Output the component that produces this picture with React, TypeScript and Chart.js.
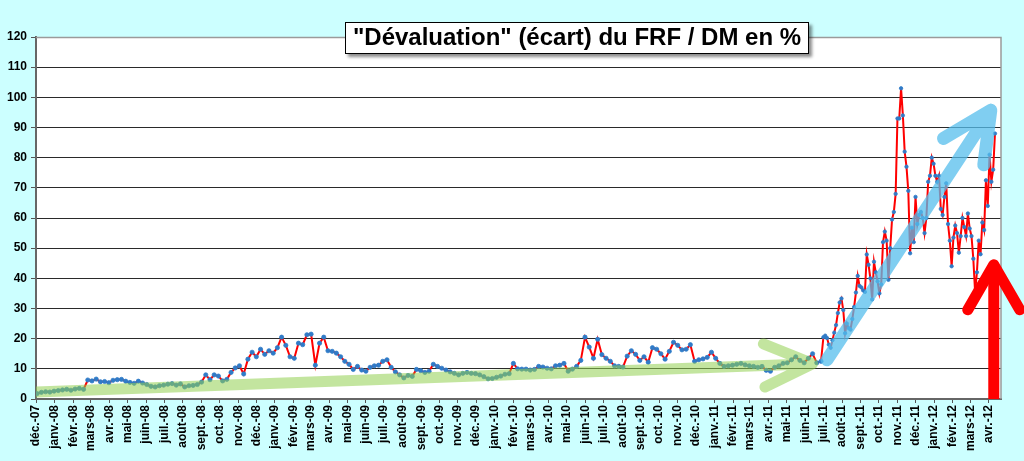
import React, { useEffect, useRef } from "react";
import { Chart, registerables } from "chart.js";

Chart.register(...registerables);

// ---------- categories / ticks ----------
const MONTH_ABBR = ["janv.", "févr.", "mars", "avr.", "mai", "juin", "juil.", "août", "sept.", "oct.", "nov.", "déc."];
const AXIS_START = "2007-12-01";
const AXIS_END = "2012-04-21";
const FIRST_TICK_MONTH = { year: 2007, month: 11 }; // déc.-07
const MONTH_TICK_COUNT = 53; // déc.-07 .. avr.-12
const Y_TICKS = [0, 10, 20, 30, 40, 50, 60, 70, 80, 90, 100, 110, 120];

const TITLE = '"Dévaluation" (écart) du FRF / DM en %';

// ---------- series values ----------
const WEEKLY_START = "2007-12-03";
const WEEKLY_STEP_DAYS = 7;
// Dec 2007 - Jun 2009, one value per week
const weeklyValuesA = [
  1.8, 2.2, 2.4, 2.3, 2.6,
  2.8, 3.0, 3.2, 2.9,
  3.3, 3.5, 3.2, 6.3,
  6.0, 6.6, 5.7, 5.8, 5.4,
  6.2, 6.4, 6.5, 5.9,
  5.5, 5.2, 5.9, 5.3,
  4.8, 4.2, 4.0, 4.4, 4.6,
  4.9, 5.1, 4.6, 5.0,
  4.0, 4.4, 4.5, 4.8,
  5.6, 8.0, 6.4, 8.0, 7.6,
  6.0, 6.5, 8.8, 10.3,
  11.0, 8.3, 13.2, 15.5,
  14.0, 16.5, 14.8, 16.0, 15.2,
  17.0, 20.5, 17.8, 14.0,
  13.5, 18.5, 18.0, 21.3,
  21.5, 11.2, 18.5, 20.5, 16.0,
  15.8, 15.2, 14.0, 12.5,
  11.5, 9.8, 10.8, 9.6,
  9.2, 10.5, 11.0, 11.2, 12.5,
];
// Jul 2009 - Jun 2011, one value per week
const weeklyValuesB = [
  13.0, 10.5, 9.0, 8.0,
  7.0, 7.8, 7.5, 9.8, 9.4,
  8.8, 9.2, 11.5, 10.8,
  10.2, 9.6, 9.0, 8.5,
  8.0, 8.5, 8.8, 8.5, 8.4,
  8.0, 7.4, 6.7, 6.8,
  7.2, 7.6, 8.2, 8.4,
  11.8, 10.0, 9.9, 9.9,
  9.6, 9.8, 10.8, 10.6, 10.2,
  10.0, 11.0, 11.2, 11.8,
  9.2, 9.9, 10.8, 12.8, 20.5,
  17.2, 13.5, 19.8, 14.7,
  13.5, 12.5, 11.0, 10.8,
  10.6, 14.2, 16.0, 14.8, 12.8,
  14.0, 12.2, 17.0, 16.5,
  15.0, 13.2, 15.8, 18.8,
  17.8, 16.3, 16.5, 18.0, 12.5,
  13.0, 13.3, 13.8, 15.5,
  13.5, 11.8, 10.8, 11.0, 11.2,
  11.5, 11.8, 11.3, 11.0,
  10.8, 10.5, 10.8, 9.5,
  9.2, 10.5, 11.0, 11.8,
  12.0, 13.0, 14.0, 12.8, 12.0,
  13.5, 15.0, 12.0, 12.5,
];
// Jul 2011 - Apr 2012, one value every 3 days
const DENSE_START = "2011-07-01";
const DENSE_STEP_DAYS = 3;
const denseValues = [
  20.5, 21.0, 20.2, 18.0, 17.0, 19.5, 22.0, 24.5, 28.5, 32.0,
  33.3, 29.5, 21.8, 25.0, 23.5, 23.0, 26.5, 30.5, 35.3, 40.8,
  37.5, 37.0, 36.0, 35.5, 47.9, 44.5, 40.0, 33.0, 45.5, 42.0,
  39.0, 35.0, 38.0, 52.0, 55.5, 52.5, 39.5, 50.0, 59.5, 62.0,
  68.0, 93.0, 93.0, 103.0, 94.0, 82.0, 77.0, 69.0, 48.3, 56.8,
  52.0, 67.0, 58.0, 61.0, 62.0, 60.0, 55.0, 60.0, 72.0, 74.0,
  80.0, 78.0, 74.0, 72.0, 74.0, 63.0, 61.0, 67.0, 71.5, 58.0,
  52.5, 44.0, 53.5, 57.5, 55.0, 48.5, 54.0, 60.0, 57.0, 54.0,
  61.5, 56.5, 54.0, 46.5, 35.3, 42.0, 52.5, 48.0, 58.5, 56.0,
  72.5, 64.0, 81.0, 72.0, 76.0, 88.0,
];

// ---------- annotation arrows (data units: date, value) ----------
const greenArrowFrom: [string, number] = ["2007-12-01", 2.3];
const greenArrowTo: [string, number] = ["2011-06-13", 11.7];
const blueArrowFrom: [string, number] = ["2011-07-07", 13];
const blueArrowTo: [string, number] = ["2012-04-04", 95.7];
const redArrowFrom: [string, number] = ["2012-04-09", 0];
const redArrowTo: [string, number] = ["2012-04-09", 44.5];

const DAY_MS = 86400000;
const dayOf = (iso: string) => (Date.parse(iso) - Date.parse(AXIS_START)) / DAY_MS;

const monthTicks = Array.from({ length: MONTH_TICK_COUNT }, (_, i) => {
  const y = FIRST_TICK_MONTH.year + Math.floor((FIRST_TICK_MONTH.month + i) / 12);
  const m = (FIRST_TICK_MONTH.month + i) % 12;
  const day = (Date.UTC(y, m, 1) - Date.parse(AXIS_START)) / DAY_MS;
  return { day, label: MONTH_ABBR[m] + "-" + String(y % 100).padStart(2, "0") };
});
const labelByDay = new Map(monthTicks.map((t) => [t.day, t.label]));

const weeklyValues = [...weeklyValuesA, ...weeklyValuesB];
const seriesPoints = [
  ...weeklyValues.map((v, i) => ({ x: dayOf(WEEKLY_START) + i * WEEKLY_STEP_DAYS, y: v })),
  ...denseValues.map((v, i) => ({ x: dayOf(DENSE_START) + i * DENSE_STEP_DAYS, y: v })),
];
const denseStartDay = dayOf(DENSE_START);

const FONT = "'Liberation Sans', Arial, sans-serif";

type ArrowSpec = {
  from: [string, number];
  to: [string, number];
  color: string;
  width: number;
  head: number;
  angle: number;
  opaque: boolean;
  clip: boolean;
};

const arrows: ArrowSpec[] = [
  { from: greenArrowFrom, to: greenArrowTo, color: "rgba(146,208,80,0.55)", width: 11, head: 53, angle: 24, opaque: false, clip: true },
  { from: blueArrowFrom, to: blueArrowTo, color: "rgba(86,190,236,0.75)", width: 13, head: 55, angle: 26, opaque: false, clip: false },
  { from: redArrowFrom, to: redArrowTo, color: "#ff0000", width: 11, head: 52, angle: 30, opaque: true, clip: false },
];

const plotFramePlugin = {
  id: "plotFrame",
  beforeDraw(chart: any) {
    const { ctx, chartArea: a } = chart;
    ctx.save();
    ctx.fillStyle = "#ffffff";
    ctx.fillRect(a.left, a.top, a.right - a.left, a.bottom - a.top);
    ctx.restore();
  },
  beforeDatasetsDraw(chart: any) {
    const { ctx, chartArea: a } = chart;
    ctx.save();
    ctx.strokeStyle = "#9a9a9a";
    ctx.lineWidth = 1.5;
    ctx.beginPath();
    ctx.moveTo(a.left, a.top + 0.5);
    ctx.lineTo(a.right, a.top + 0.5);
    ctx.lineTo(a.right, a.bottom);
    ctx.stroke();
    ctx.restore();
  },
};

const arrowsPlugin = {
  id: "arrows",
  afterDatasetsDraw(chart: any) {
    const { ctx, chartArea: a, scales } = chart;
    const xs = scales.x;
    const ys = scales.y;
    for (const ar of arrows) {
      const x0 = xs.getPixelForValue(dayOf(ar.from[0]));
      const y0 = ys.getPixelForValue(ar.from[1]);
      const x1 = xs.getPixelForValue(dayOf(ar.to[0]));
      const y1 = ys.getPixelForValue(ar.to[1]);
      const back = Math.atan2(y0 - y1, x0 - x1);
      const rad = (ar.angle * Math.PI) / 180;
      const h1x = x1 + ar.head * Math.cos(back + rad);
      const h1y = y1 + ar.head * Math.sin(back + rad);
      const h2x = x1 + ar.head * Math.cos(back - rad);
      const h2y = y1 + ar.head * Math.sin(back - rad);
      ctx.save();
      if (ar.clip) {
        ctx.beginPath();
        ctx.rect(a.left, a.top, a.right - a.left, a.bottom - a.top);
        ctx.clip();
      }
      ctx.strokeStyle = ar.color;
      ctx.lineWidth = ar.width;
      ctx.lineJoin = "round";
      if (ar.opaque) {
        ctx.lineCap = "butt";
        ctx.beginPath();
        ctx.moveTo(x0, y0);
        ctx.lineTo(x1, y1);
        ctx.stroke();
        ctx.lineCap = "round";
        ctx.beginPath();
        ctx.moveTo(h1x, h1y);
        ctx.lineTo(x1, y1);
        ctx.lineTo(h2x, h2y);
        ctx.stroke();
      } else {
        ctx.lineCap = "round";
        ctx.beginPath();
        ctx.moveTo(x0, y0);
        ctx.lineTo(x1, y1);
        ctx.moveTo(h1x, h1y);
        ctx.lineTo(x1, y1);
        ctx.lineTo(h2x, h2y);
        ctx.stroke();
      }
      ctx.restore();
    }
  },
};

function ChartCanvas() {
  const ref = useRef<HTMLCanvasElement | null>(null);
  useEffect(() => {
    document.body.style.margin = "0";
    const canvas = ref.current;
    if (!canvas) return;
    const chart = new Chart(canvas, {
      type: "line",
      data: {
        datasets: [
          {
            data: seriesPoints,
            borderColor: "#ff0000",
            borderWidth: 2,
            tension: 0,
            pointRadius: (c: any) => (c.raw && c.raw.x < denseStartDay ? 2.1 : 1.7),
            pointBorderWidth: 0.8,
            pointBackgroundColor: "#2f7bc8",
            pointBorderColor: "#2f7bc8",
            fill: false,
          },
        ],
      },
      options: {
        animation: false,
        responsive: false,
        maintainAspectRatio: false,
        parsing: false as any,
        normalized: true,
        layout: { padding: { top: 37, right: 23, left: 0, bottom: 0 } },
        plugins: {
          legend: { display: false },
          tooltip: { enabled: false },
          title: { display: false },
        },
        scales: {
          x: {
            type: "linear",
            min: 0,
            max: dayOf(AXIS_END),
            afterBuildTicks: (s: any) => {
              s.ticks = monthTicks.map((t) => ({ value: t.day }));
            },
            afterFit: (s: any) => {
              s.height = 62;
            },
            ticks: {
              autoSkip: false,
              maxRotation: 90,
              minRotation: 90,
              padding: 2,
              color: "#000",
              font: { family: FONT, size: 12, weight: "bold" },
              callback: (v: any) => labelByDay.get(v) ?? "",
            },
            grid: { drawOnChartArea: false, drawTicks: true, tickLength: 4, color: "#555" },
            border: { display: true, color: "#666", width: 2 },
          },
          y: {
            type: "linear",
            min: 0,
            max: 120,
            afterBuildTicks: (s: any) => {
              s.ticks = Y_TICKS.map((v) => ({ value: v }));
            },
            afterFit: (s: any) => {
              s.width = 36;
            },
            ticks: {
              padding: 4,
              color: "#000",
              font: { family: FONT, size: 12, weight: "bold" },
            },
            grid: {
              color: (c: any) => (c.tick && c.tick.value === 120 ? "#9a9a9a" : "#2a2a2a"),
              tickColor: "#555",
              lineWidth: 1,
              drawTicks: true,
              tickLength: 5,
            },
            border: { display: true, color: "#666", width: 2 },
          },
        },
      } as any,
      plugins: [plotFramePlugin, arrowsPlugin],
    });
    return () => chart.destroy();
  }, []);
  return <canvas ref={ref} width={1024} height={461} style={{ display: "block", width: 1024, height: 461 }} />;
}

export default function App() {
  return (
    <div style={{ position: "relative", width: 1024, height: 461, background: "#ccffff", overflow: "hidden" }}>
      <ChartCanvas />
      <div
        style={{
          position: "absolute",
          left: 345,
          top: 22,
          width: 464,
          height: 32,
          boxSizing: "border-box",
          border: "1px solid #000",
          background: "#fff",
          boxShadow: "3px 3px 3px rgba(0,0,0,0.45)",
          fontFamily: FONT,
          fontWeight: "bold",
          fontSize: 24,
          lineHeight: "28px",
          textAlign: "center",
          whiteSpace: "nowrap",
          color: "#000",
        }}
      >
        {TITLE}
      </div>
    </div>
  );
}
